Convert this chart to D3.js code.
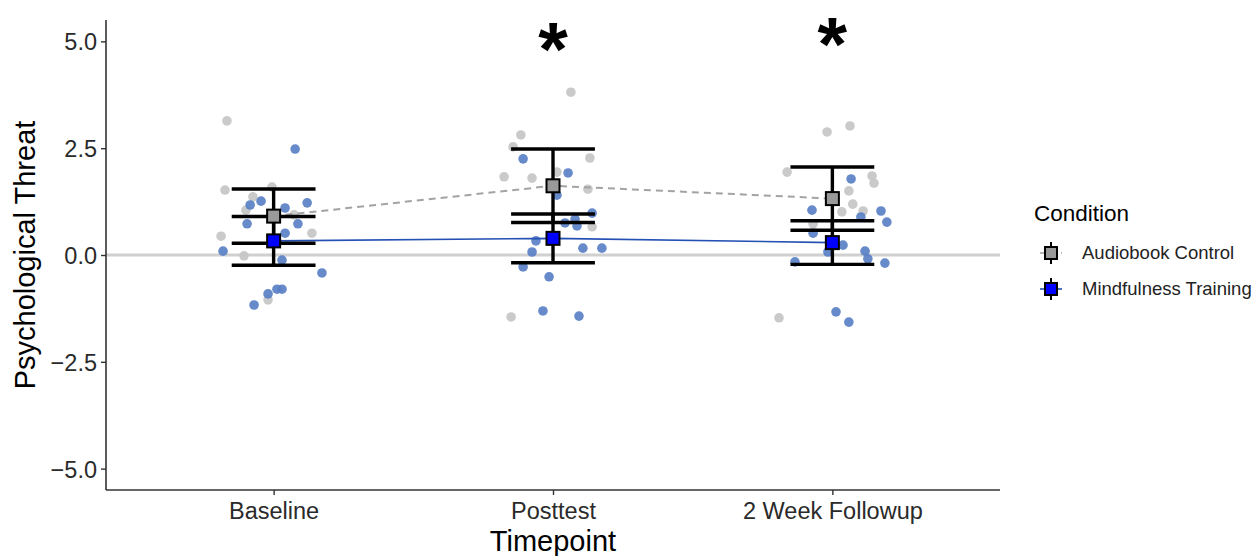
<!DOCTYPE html>
<html>
<head>
<meta charset="utf-8">
<script src="https://cdn.jsdelivr.net/npm/d3@7"></script>
<style>
  html, body { margin: 0; padding: 0; background: #fff; }
  svg { display: block; font-family: "Liberation Sans", Arial, Helvetica, sans-serif; }
</style>
</head>
<body>
<svg id="chart" width="1260" height="556"></svg>
<script>
// Timepoints on the x axis
const timepoints = ["Baseline", "Posttest", "2 Week Followup"];
const conditions = ["Audiobook Control", "Mindfulness Training"];
const yTicks = [-5, -2.5, 0, 2.5, 5];

// Condition means and standard errors per timepoint
const audioMeans = [0.91, 1.62, 1.32];
const audioSE = [0.635, 0.86, 0.74];
const mindMeans = [0.33, 0.39, 0.29];
const mindSE = [0.57, 0.57, 0.51];

// Individual scores (value) with horizontal jitter (fraction of category step)
const audioBaseline = [3.14, 1.52, 1.36, 1.05, 0.44, -0.02, 0.51, 0.94, -1.05, 1.59];
const audioBaselineJit = [-0.167, -0.174, -0.074, -0.099, -0.188, -0.106, 0.137, 0.073, -0.020, -0.006];
const audioPost = [3.81, 2.81, 2.53, 2.27, 1.83, 1.80, 1.94, 1.54, 0.66, -1.45];
const audioPostJit = [0.064, -0.115, -0.143, 0.132, -0.175, -0.075, 0.014, 0.125, 0.140, -0.150];
const audioFollow = [3.02, 2.88, 1.94, 1.85, 1.68, 1.50, 1.19, 1.03, 1.01, 0.73, -1.47];
const audioFollowJit = [0.063, -0.019, -0.162, 0.142, 0.149, 0.059, 0.073, 0.110, 0.034, -0.069, -0.191];

const mindBaseline = [2.48, 1.26, 1.17, 1.10, 1.22, 0.73, 0.73, 0.51, 0.09, -0.12, -0.42, -0.80, -0.80, -0.91, -1.17];
const mindBaselineJit = [0.077, -0.045, -0.084, 0.041, 0.120, -0.095, 0.087, 0.041, -0.181, 0.030, 0.173, 0.012, 0.030, -0.020, -0.070];
const mindPost = [2.25, 1.92, 1.40, 0.98, 0.84, 0.75, 0.68, 0.33, 0.16, 0.16, 0.07, -0.28, -0.51, -1.31, -1.43];
const mindPostJit = [-0.107, 0.054, 0.014, 0.140, 0.079, 0.043, 0.086, -0.061, 0.107, 0.175, -0.075, -0.107, -0.014, -0.036, 0.093];
const mindFollow = [1.78, 1.05, 1.03, 0.77, 0.89, 0.51, 0.23, 0.07, 0.09, -0.09, -0.19, -0.16, -1.33, -1.57];
const mindFollowJit = [0.067, -0.073, 0.174, 0.195, 0.102, -0.069, 0.038, -0.016, 0.117, 0.127, 0.188, -0.134, 0.013, 0.059];

// Timepoints flagged as significant
const significant = ["Posttest", "2 Week Followup"];
const starBaseline = [75, 70];

const svg = d3.select("#chart");
const plot = { left: 106, right: 1000, top: 20, bottom: 490 };

const x = d3.scalePoint().domain(timepoints).range([plot.left, plot.right]).padding(0.6);
const y = d3.scaleLinear().domain([-5.5, 5.5]).range([plot.bottom, plot.top]);
const step = x.step();

const colors = {
  audioPoint: "#c6c6c6", mindPoint: "#5a80c6",
  audioFill: "#9a9a9a", mindFill: "#0000ff",
  audioLine: "#a3a3a3", mindLine: "#2450b3"
};

// Zero reference line
svg.append("line")
  .attr("x1", plot.left).attr("x2", plot.right)
  .attr("y1", y(0)).attr("y2", y(0))
  .attr("stroke", "#d0d0d0").attr("stroke-width", 3);

// Raw points
function rawPoints(values, jit, tp, fill) {
  svg.append("g").selectAll("circle").data(values).join("circle")
    .attr("cx", (d, i) => x(tp) + jit[i] * step)
    .attr("cy", d => y(d))
    .attr("r", 4.8)
    .attr("fill", fill)
    .attr("fill-opacity", 0.92);
}
rawPoints(audioBaseline, audioBaselineJit, timepoints[0], colors.audioPoint);
rawPoints(audioPost, audioPostJit, timepoints[1], colors.audioPoint);
rawPoints(audioFollow, audioFollowJit, timepoints[2], colors.audioPoint);
rawPoints(mindBaseline, mindBaselineJit, timepoints[0], colors.mindPoint);
rawPoints(mindPost, mindPostJit, timepoints[1], colors.mindPoint);
rawPoints(mindFollow, mindFollowJit, timepoints[2], colors.mindPoint);

// Mean lines
const line = d3.line().x((d, i) => x(timepoints[i])).y(d => y(d));
svg.append("path").datum(audioMeans).attr("d", line)
  .attr("fill", "none").attr("stroke", colors.audioLine)
  .attr("stroke-width", 2).attr("stroke-dasharray", "7,5");
svg.append("path").datum(mindMeans).attr("d", line)
  .attr("fill", "none").attr("stroke", colors.mindLine)
  .attr("stroke-width", 1.6);

// Error bars
const capHalf = 0.15 * step;
function errorBars(means, se) {
  const g = svg.append("g").attr("stroke", "#000").attr("stroke-width", 3.4);
  means.forEach((m, i) => {
    const cx = x(timepoints[i]);
    g.append("line").attr("x1", cx).attr("x2", cx).attr("y1", y(m + se[i])).attr("y2", y(m - se[i]));
    g.append("line").attr("x1", cx - capHalf).attr("x2", cx + capHalf).attr("y1", y(m + se[i])).attr("y2", y(m + se[i]));
    g.append("line").attr("x1", cx - capHalf).attr("x2", cx + capHalf).attr("y1", y(m - se[i])).attr("y2", y(m - se[i]));
  });
}
errorBars(audioMeans, audioSE);
errorBars(mindMeans, mindSE);

// Mean squares
const sq = 13;
function squares(means, fill) {
  svg.append("g").selectAll("rect").data(means).join("rect")
    .attr("x", (d, i) => x(timepoints[i]) - sq / 2)
    .attr("y", d => y(d) - sq / 2)
    .attr("width", sq).attr("height", sq)
    .attr("fill", fill).attr("stroke", "#000").attr("stroke-width", 2);
}
squares(audioMeans, colors.audioFill);
squares(mindMeans, colors.mindFill);

// Axes
const yAxis = svg.append("g").attr("transform", `translate(${plot.left},0)`)
  .call(d3.axisLeft(y).tickValues(yTicks).tickFormat(d3.format(".1f")).tickSize(5).tickPadding(4));
const xAxis = svg.append("g").attr("transform", `translate(0,${plot.bottom})`)
  .call(d3.axisBottom(x).tickSize(5).tickPadding(4));
[yAxis, xAxis].forEach(a => {
  a.select(".domain").attr("stroke", "#333").attr("stroke-width", 1.6)
    .attr("d", a === yAxis ? `M0,${plot.top}V${plot.bottom}` : `M${plot.left},0H${plot.right}`);
  a.selectAll(".tick line").attr("stroke", "#333").attr("stroke-width", 1.4);
  a.selectAll(".tick text").attr("fill", "#2a2a2a").attr("font-size", 23.5)
    .attr("font-family", "Liberation Sans, Arial, sans-serif");
});
yAxis.selectAll(".tick text").text(d => d3.format(".1f")(d).replace("-", "\u2212")).attr("dy", "0.36em");
xAxis.selectAll(".tick text").attr("dy", "0.85em");

// Axis titles
svg.append("text")
  .attr("transform", `translate(35,${y(0)}) rotate(-90)`)
  .attr("text-anchor", "middle").attr("font-size", 29).attr("fill", "#000")
  .text("Psychological Threat");
svg.append("text")
  .attr("x", (plot.left + plot.right) / 2).attr("y", 551)
  .attr("text-anchor", "middle").attr("font-size", 29).attr("fill", "#000")
  .text("Timepoint");

// Significance markers
significant.forEach((tp, i) => {
  svg.append("text")
    .attr("x", x(tp)).attr("y", starBaseline[i])
    .attr("text-anchor", "middle").attr("font-size", 76).attr("font-weight", "bold")
    .attr("font-family", "Liberation Sans, Arial, sans-serif")
    .text("*");
});

// Legend
const legend = svg.append("g").attr("transform", "translate(1034,0)");
legend.append("text").attr("x", 0).attr("y", 221).attr("font-size", 22.5).attr("fill", "#000").text("Condition");
const legendFills = [colors.audioFill, colors.mindFill];
const legendLines = [colors.audioLine, colors.mindLine];
conditions.forEach((c, i) => {
  const cy = 253 + i * 36;
  const kx = 17;
  legend.append("line").attr("x1", kx - 11).attr("x2", kx + 11).attr("y1", cy).attr("y2", cy)
    .attr("stroke", legendLines[i]).attr("stroke-width", 1.6)
    .attr("stroke-dasharray", i === 0 ? "4,3" : null);
  legend.append("line").attr("x1", kx).attr("x2", kx).attr("y1", cy - 11).attr("y2", cy + 11)
    .attr("stroke", "#000").attr("stroke-width", 2);
  legend.append("rect").attr("x", kx - 6).attr("y", cy - 6).attr("width", 12).attr("height", 12)
    .attr("fill", legendFills[i]).attr("stroke", "#000").attr("stroke-width", 2);
  legend.append("text").attr("x", 48).attr("y", cy + 6).attr("font-size", 18.5).attr("fill", "#222").text(c);
});
</script>
</body>
</html>
